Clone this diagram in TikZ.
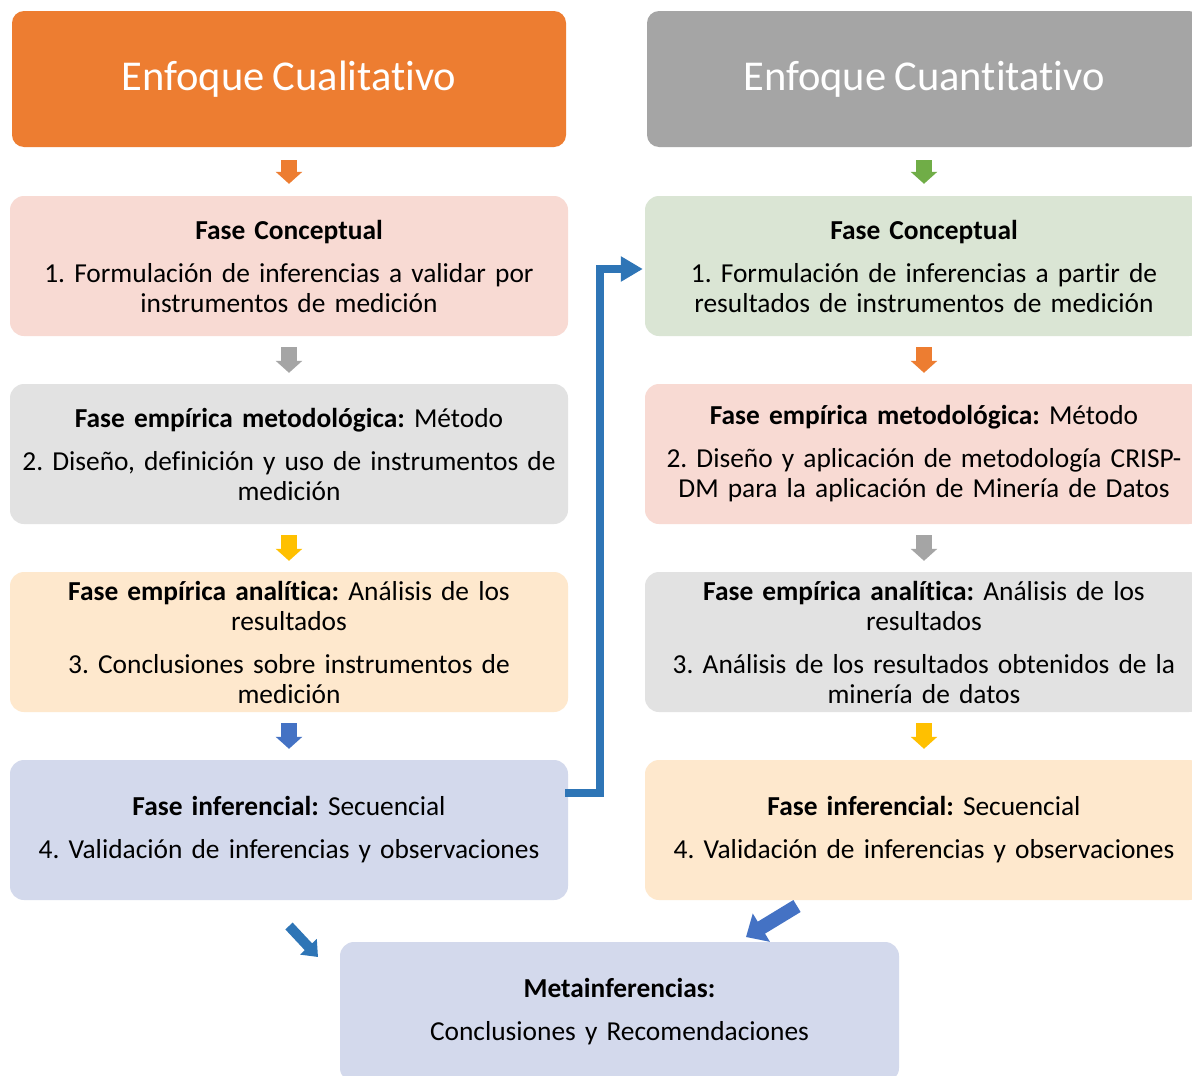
\documentclass[tikz,border=0pt]{standalone}
\usepackage{fontspec}
\setmainfont[Ligatures={NoCommon,NoContextual}, Contextuals=NoAlternate, WordSpace=0.85]{Carlito}
\frenchspacing
\usetikzlibrary{arrows.meta}
\definecolor{cOrange}{HTML}{ED7D31}
\definecolor{cGrayH}{HTML}{A5A5A5}
\definecolor{cPink}{HTML}{F8DAD3}
\definecolor{cGrayB}{HTML}{E2E2E2}
\definecolor{cYelB}{HTML}{FEE8CD}
\definecolor{cBlueB}{HTML}{D3D9EC}
\definecolor{cGreenB}{HTML}{DAE5D4}
\definecolor{cYellow}{HTML}{FFC000}
\definecolor{cBlue}{HTML}{4472C4}
\definecolor{cGreen}{HTML}{70AD47}
\definecolor{cLink}{HTML}{2E75B6}
\begin{document}
\begin{tikzpicture}[x=1pt,y=-1pt,
  hdr/.style={rectangle, rounded corners=12pt, minimum width=554pt, minimum height=136pt,
    inner sep=0pt, text=white, font=\fontsize{42.5}{50}\selectfont},
  box/.style={rectangle, rounded corners=14pt, minimum width=558pt, minimum height=140pt,
    inner sep=0pt, align=center, text width=556pt, font=\fontsize{27.4}{30}\selectfont\frenchspacing},
  darr/.style={draw=#1, line width=16pt, -{Triangle[width=26pt,length=12pt]}},
  link/.style={draw=cLink, line width=8pt, -{Triangle[width=24pt,length=22pt]}},
]
\clip (0,0) rectangle (1192,1076);
\fill[white] (0,0) rectangle (1192,1076);

% headers
\node[hdr, fill=cOrange] (hL) at (289,79) {Enfoque Cualitativo};
\node[hdr, fill=cGrayH] (hR) at (924,79) {Enfoque Cuantitativo};

% left column
\node[box, fill=cPink] (b1L) at (289,266) {\textbf{Fase Conceptual}\\[13pt]
  1. Formulación de inferencias a validar por\\ instrumentos de medición};
\node[box, fill=cGrayB] (b2L) at (289,454) {\textbf{Fase empírica metodológica:} Método\\[13pt]
  2. Diseño, definición y uso de instrumentos de\\ medición};
\node[box, fill=cYelB] (b3L) at (289,642) {\textbf{Fase empírica analítica:} Análisis de los\\ resultados\\[13pt]
  3. Conclusiones sobre instrumentos de\\ medición};
\node[box, fill=cBlueB] (b4L) at (289,830) {\textbf{Fase inferencial:} Secuencial\\[13pt]
  4. Validación de inferencias y observaciones};

% right column
\node[box, fill=cGreenB] (b1R) at (924,266) {\textbf{Fase Conceptual}\\[13pt]
  1. Formulación de inferencias a partir de\\ resultados de instrumentos de medición};
\node[box, fill=cPink] (b2R) at (924,454) {\textbf{Fase empírica metodológica:} Método\\[13pt]
  2. Diseño y aplicación de metodología CRISP-\\ DM para la aplicación de Minería de Datos};
\node[box, fill=cGrayB] (b3R) at (924,642) {\textbf{Fase empírica analítica:} Análisis de los\\ resultados\\[13pt]
  3. Análisis de los resultados obtenidos de la\\ minería de datos};
\node[box, fill=cYelB] (b4R) at (924,830) {\textbf{Fase inferencial:} Secuencial\\[13pt]
  4. Validación de inferencias y observaciones};

% bottom
\node[box, fill=cBlueB, minimum width=559pt] (meta) at (619.5,1012) {\textbf{Metainferencias:}\\[13pt]
  Conclusiones y Recomendaciones};

% small down arrows, left
\draw[darr=cOrange] ([yshift=-13pt]hL.south) -- ([yshift=12pt]b1L.north);
\draw[darr=cGrayH] ([yshift=-11pt]b1L.south) -- ([yshift=11pt]b2L.north);
\draw[darr=cYellow] ([yshift=-11pt]b2L.south) -- ([yshift=11pt]b3L.north);
\draw[darr=cBlue] ([yshift=-11pt]b3L.south) -- ([yshift=11pt]b4L.north);
% small down arrows, right
\draw[darr=cGreen] ([yshift=-13pt]hR.south) -- ([yshift=12pt]b1R.north);
\draw[darr=cOrange] ([yshift=-11pt]b1R.south) -- ([yshift=11pt]b2R.north);
\draw[darr=cGrayH] ([yshift=-11pt]b2R.south) -- ([yshift=11pt]b3R.north);
\draw[darr=cYellow] ([yshift=-11pt]b3R.south) -- ([yshift=11pt]b4R.north);

% elbow link from left inferential phase to right conceptual phase
\draw[link] ([xshift=-3pt,yshift=37pt]b4L.east) -- ++(35,0) |- ([xshift=-2pt,yshift=-3pt]b1R.west);

% diagonal arrows into meta
\coordinate (dA1) at (289,926);
\coordinate (dA2) at (318,957);
\coordinate (dB1) at (797,906);
\coordinate (dB2) at (746,937);
\draw[draw=cLink, line width=10pt, -{Triangle[width=22pt,length=14pt]}] (dA1) -- (dA2);
\draw[draw=cBlue, line width=14pt, -{Triangle[width=32pt,length=18pt]}] (dB1) -- (dB2);
\end{tikzpicture}
\end{document}
